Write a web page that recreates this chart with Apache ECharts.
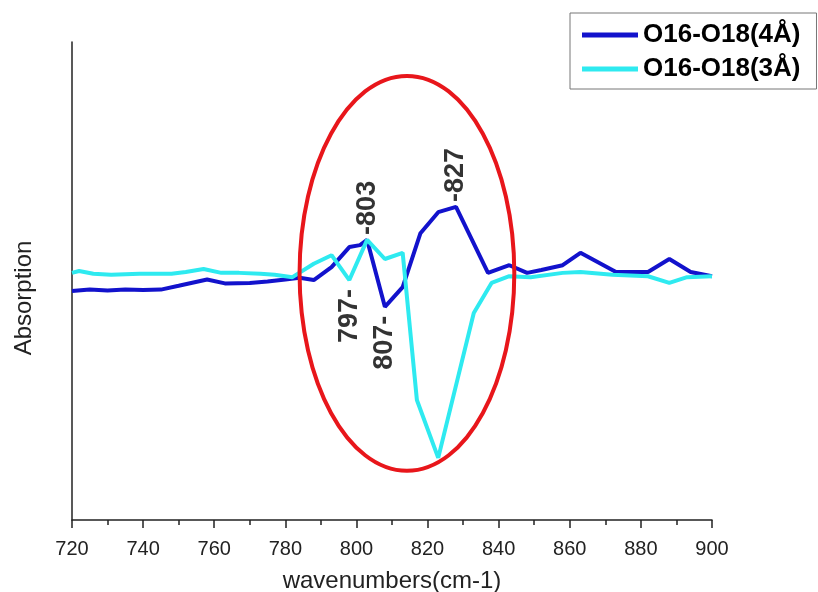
<!DOCTYPE html>
<head>
    <meta charset="utf-8">
    <title>ECharts</title>
</head>
<body style="margin:0">
    <div id="main" style="width:818px;height:592px"></div>
    <script src="https://cdn.jsdelivr.net/npm/echarts@6/dist/echarts.min.js"></script>
    <script type="text/javascript">
var myChart = echarts.init(document.getElementById('main'));

// O16-O18(4Å)
var wn4 = [720, 725, 730, 735, 740, 745, 750, 758, 763, 770, 775, 780, 784, 788, 793, 798, 801, 803, 808, 813,
    818, 823, 828, 837, 843, 848, 852, 858, 863, 873, 882, 888, 894, 900];
var abs4 = [47.9, 48.2, 48.0, 48.2, 48.1, 48.2, 49.0, 50.3, 49.5, 49.6, 49.9, 50.3, 50.7, 50.2, 52.9, 57.1, 57.5, 58.6, 44.6, 48.7,
    60.0, 64.4, 65.5, 51.7, 53.3, 51.7, 52.3, 53.3, 55.9, 51.9, 51.9, 54.6, 51.9, 51.0];

// O16-O18(3Å)
var wn3 = [720, 722, 726, 731, 739, 748, 752, 757, 762, 767, 773, 777, 782, 788, 793, 798, 803, 808, 813, 817,
    823, 833, 838, 843, 849, 858, 863, 872, 882, 888, 893, 900];
var abs3 = [51.7, 52.1, 51.5, 51.3, 51.5, 51.5, 51.9, 52.5, 51.7, 51.7, 51.5, 51.3, 50.8, 53.6, 55.4, 50.2, 58.6, 54.6, 55.9, 25.1,
    13.0, 43.3, 49.6, 51.0, 50.8, 51.7, 51.9, 51.3, 51.0, 49.6, 50.8, 51.0];

var seriesNames = ['O16-O18(4Å)', 'O16-O18(3Å)'];
var xTicks = [720, 900, 20];

// peak annotations: wavenumber, value, text, side
var peakLabels = [
    [803, 58.6, '-803', 'up'],
    [828, 65.5, '-827', 'up'],
    [798, 50.2, '797-', 'down'],
    [808, 44.6, '807-', 'down']
];

// red ellipse: centre x, centre y, radius x, radius y
var ellipse = [814.2, 51.6, 30.2, 41.3];

function pairs(xs, ys) {
    return xs.map(function (x, i) { return [x, ys[i]]; });
}

var option = {
    backgroundColor: '#fff',
    animation: false,
    legend: {
        data: seriesNames,
        orient: 'vertical',
        left: 570,
        top: 13,
        padding: [9, 16, 7, 12],
        itemGap: 8,
        itemWidth: 56,
        itemHeight: 5,
        icon: 'rect',
        borderColor: '#777',
        borderWidth: 1,
        textStyle: { fontFamily: 'Liberation Sans', fontSize: 26, fontWeight: 'bold', color: '#000' }
    },
    grid: { left: 72, right: 106, top: 42, bottom: 72, outerBoundsMode: 'none' },
    xAxis: {
        type: 'value',
        min: xTicks[0],
        max: xTicks[1],
        interval: xTicks[2],
        name: 'wavenumbers(cm-1)',
        nameLocation: 'middle',
        nameGap: 49,
        nameTextStyle: { fontFamily: 'Liberation Sans', fontSize: 24, color: '#222' },
        axisLine: { lineStyle: { color: '#222', width: 1.5 } },
        axisTick: { length: 8, lineStyle: { color: '#222', width: 1.5 } },
        minorTick: { show: true, splitNumber: 2, length: 5, lineStyle: { color: '#222', width: 1.5 } },
        axisLabel: { fontFamily: 'Liberation Sans', fontSize: 20, color: '#222', margin: 19 },
        splitLine: { show: false }
    },
    yAxis: {
        type: 'value',
        min: 0,
        max: 100,
        name: 'Absorption',
        nameLocation: 'middle',
        nameGap: 36,
        nameTextStyle: { fontFamily: 'Liberation Sans', fontSize: 24, color: '#222', padding: [0, 34, 0, 0] },
        axisLine: { show: true, lineStyle: { color: '#222', width: 1.5 } },
        axisTick: { show: false },
        axisLabel: { show: false },
        splitLine: { show: false }
    },
    series: [
        {
            name: seriesNames[0],
            type: 'line',
            data: pairs(wn4, abs4),
            showSymbol: false,
            color: '#1212cc',
            lineStyle: { width: 4, color: '#1212cc' },
            z: 2
        },
        {
            name: seriesNames[1],
            type: 'line',
            data: pairs(wn3, abs3),
            showSymbol: false,
            color: '#2eeaf0',
            lineStyle: { width: 4, color: '#2eeaf0' },
            z: 3
        },
        {
            type: 'custom',
            encode: { x: 0, y: 1 },
            data: [ellipse],
            z: 5,
            silent: true,
            renderItem: function (params, api) {
                var c = api.coord([api.value(0), api.value(1)]);
                var s = api.size([api.value(2), api.value(3)]);
                return {
                    type: 'ellipse',
                    shape: { cx: c[0], cy: c[1], rx: s[0], ry: s[1] },
                    style: { fill: 'none', stroke: '#e8161b', lineWidth: 4 }
                };
            }
        },
        {
            type: 'scatter',
            symbolSize: 0,
            z: 6,
            data: peakLabels.map(function (p) {
                var up = p[3] === 'up';
                return {
                    value: [p[0], p[1]],
                    label: {
                        show: true,
                        formatter: p[2],
                        position: 'inside',
                        rotate: 90,
                        align: up ? 'left' : 'right',
                        verticalAlign: 'middle',
                        offset: up ? [5, 0] : [-9, 0],
                        fontFamily: 'Liberation Sans',
                        fontSize: 27,
                        fontWeight: 'bold',
                        color: '#000'
                    }
                };
            })
        }
    ]
};

myChart.setOption(option);
    </script>
</body>
